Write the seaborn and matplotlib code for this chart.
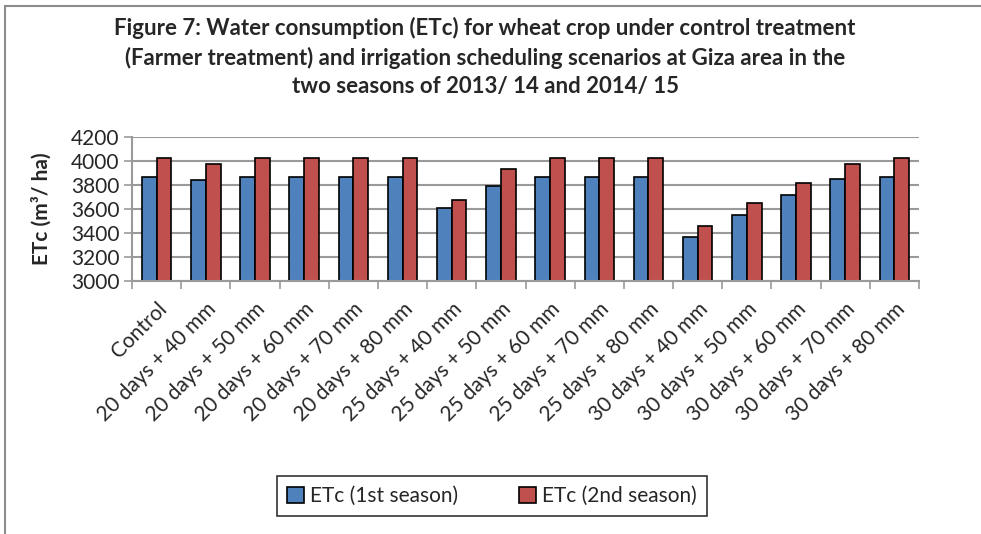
import matplotlib
matplotlib.use("Agg")
import matplotlib.pyplot as plt
from matplotlib.lines import Line2D
import seaborn as sns
import pandas as pd

categories = ["Control",
              "20 days + 40 mm", "20 days + 50 mm", "20 days + 60 mm", "20 days + 70 mm", "20 days + 80 mm",
              "25 days + 40 mm", "25 days + 50 mm", "25 days + 60 mm", "25 days + 70 mm", "25 days + 80 mm",
              "30 days + 40 mm", "30 days + 50 mm", "30 days + 60 mm", "30 days + 70 mm", "30 days + 80 mm"]
season1 = [3870, 3845, 3870, 3870, 3870, 3870, 3610, 3790, 3870, 3870, 3870, 3365, 3550, 3720, 3850, 3870]
season2 = [4025, 3978, 4025, 4025, 4025, 4025, 3672, 3930, 4025, 4025, 4025, 3460, 3648, 3820, 3975, 4025]
series_names = ["ETc (1st season)", "ETc (2nd season)"]
yticks = [3000, 3200, 3400, 3600, 3800, 4000, 4200]

title = ("Figure 7: Water consumption (ETc) for wheat crop under control treatment\n"
         "(Farmer treatment) and irrigation scheduling scenarios at Giza area in the\n"
         "two seasons of 2013/ 14 and 2014/ 15")

df = pd.DataFrame({
    "category": categories * 2,
    "value": season1 + season2,
    "series": [series_names[0]] * len(categories) + [series_names[1]] * len(categories),
})

sns.set_theme(style="white")
plt.rcParams["font.family"] = ["Lato", "DejaVu Sans"]

fig = plt.figure(figsize=(9.81, 5.34), dpi=100)
ax = fig.add_axes([132 / 981, 1 - 281 / 534, (919 - 132) / 981, (281 - 137) / 534])

palette = {series_names[0]: "#4F81BD", series_names[1]: "#C0504D"}
sns.barplot(data=df, x="category", y="value", hue="series", order=categories,
            hue_order=series_names, palette=palette, width=0.6, dodge=True,
            edgecolor="black", linewidth=1.2, saturation=1, ax=ax, legend=True)

ax.set_ylim(3000, 4200)
ax.set_yticks(yticks)
ax.set_yticklabels([str(t) for t in yticks], fontsize=15)
ax.yaxis.grid(True, color="#9a9a9a", linewidth=1.5)
ax.set_axisbelow(True)
ax.set_xlim(-0.5, len(categories) - 0.5)
ax.set_xticks([i - 0.5 for i in range(len(categories) + 1)], minor=True)
ax.set_xticks(range(len(categories)))
ax.set_xticklabels(categories, rotation=45, ha="right", rotation_mode="anchor", fontsize=15)
ax.tick_params(axis="x", which="major", length=0, pad=13)
ax.tick_params(axis="x", which="minor", length=6, color="#9a9a9a", width=1.2, direction="out", bottom=True)
ax.tick_params(axis="y", length=6, color="#9a9a9a", width=1.2, direction="out", left=True, pad=3)
for side in ["top", "right"]:
    ax.spines[side].set_visible(False)
for side in ["left", "bottom"]:
    ax.spines[side].set_color("#9a9a9a")
    ax.spines[side].set_linewidth(1.5)
ax.set_xlabel("")
ax.set_ylabel("ETc (m³/ ha)", fontsize=15, fontweight="bold", labelpad=14)

ax.get_legend().remove()
handles = [plt.Rectangle((0, 0), 1, 1, facecolor=palette[n], edgecolor="black", linewidth=1.2) for n in series_names]
leg = fig.legend(handles, series_names, loc="center", bbox_to_anchor=(492 / 981, 1 - 496 / 534),
                 ncol=2, frameon=True, fancybox=False, fontsize=15, handlelength=0.8, handleheight=0.8,
                 handletextpad=0.3, columnspacing=2.9, borderpad=0.5, borderaxespad=0)
leg.get_frame().set_edgecolor("black")
leg.get_frame().set_linewidth(1.2)

fig.text(485 / 981, 1 - 57 / 534, title, ha="center", va="center", fontsize=16,
         fontweight="bold", multialignment="center", linespacing=1.4)

fig.add_artist(Line2D([5 / 981, 1], [1 - 6 / 534, 1 - 6 / 534], transform=fig.transFigure,
                      color="#8c8c8c", linewidth=1.5))
fig.add_artist(Line2D([5 / 981, 5 / 981], [0, 1 - 6 / 534], transform=fig.transFigure,
                      color="#8c8c8c", linewidth=1.5))

fig.savefig("out.png", dpi=100)
